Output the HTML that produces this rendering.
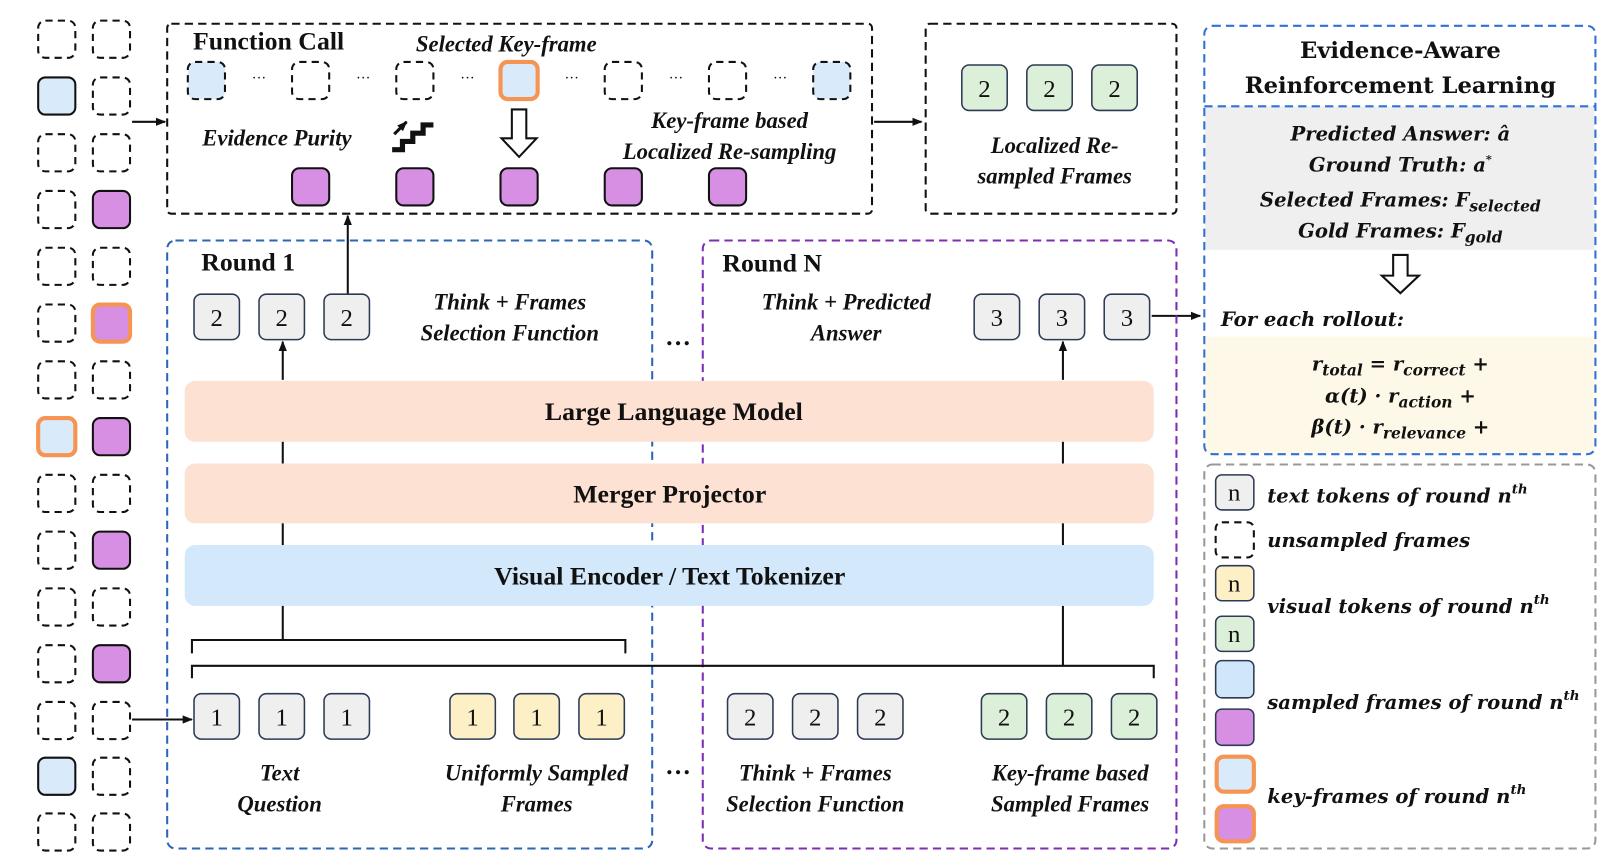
<!DOCTYPE html>
<html><head><meta charset="utf-8"><style>
html,body{margin:0;padding:0;background:#fff;}
svg{display:block;}
svg text{font-family:"Liberation Serif","Times New Roman",Times,serif;fill:#111;}
.bi{font-weight:bold;font-style:italic;font-size:22px;}
.b{font-weight:bold;font-size:25px;}
.n{font-size:24px;}
svg text.dj, svg .dj text{font-family:"DejaVu Serif",serif;}
.dj{font-size:19px;}
</style></head><body>
<svg width="1614" height="864" viewBox="0 0 1564 837" preserveAspectRatio="none" xmlns="http://www.w3.org/2000/svg" font-family="Liberation Serif, serif">
<defs>
<marker id="ah" markerWidth="10" markerHeight="10" refX="9" refY="5" orient="auto" markerUnits="userSpaceOnUse"><path d="M0,1 L10,5 L0,9 z" fill="#111"/></marker>
</defs>
<g stroke="#111" stroke-width="2">
<g fill="none" stroke-dasharray="7 5">
<rect x="37" y="20" width="36" height="36" rx="7"/><rect x="90" y="20" width="36" height="36" rx="7"/>
<rect x="90" y="75" width="36" height="36" rx="7"/>
<rect x="37" y="130" width="36" height="36" rx="7"/><rect x="90" y="130" width="36" height="36" rx="7"/>
<rect x="37" y="185" width="36" height="36" rx="7"/>
<rect x="37" y="240" width="36" height="36" rx="7"/><rect x="90" y="240" width="36" height="36" rx="7"/>
<rect x="37" y="295" width="36" height="36" rx="7"/>
<rect x="37" y="350" width="36" height="36" rx="7"/><rect x="90" y="350" width="36" height="36" rx="7"/>
<rect x="37" y="460" width="36" height="36" rx="7"/><rect x="90" y="460" width="36" height="36" rx="7"/>
<rect x="37" y="515" width="36" height="36" rx="7"/>
<rect x="37" y="570" width="36" height="36" rx="7"/><rect x="90" y="570" width="36" height="36" rx="7"/>
<rect x="37" y="625" width="36" height="36" rx="7"/>
<rect x="37" y="680" width="36" height="36" rx="7"/><rect x="90" y="680" width="36" height="36" rx="7"/>
<rect x="90" y="734" width="36" height="36" rx="7"/>
<rect x="37" y="788" width="36" height="36" rx="7"/><rect x="90" y="788" width="36" height="36" rx="7"/>
</g>
<rect x="37" y="75" width="36" height="36" rx="7" fill="#d9ebfb"/>
<rect x="90" y="185" width="36" height="36" rx="7" fill="#d68fe3"/>
<rect x="90" y="295" width="36" height="36" rx="7" fill="#d68fe3" stroke="#f59453" stroke-width="4"/>
<rect x="37" y="405" width="36" height="36" rx="7" fill="#d9ebfb" stroke="#f59453" stroke-width="4"/>
<rect x="90" y="405" width="36" height="36" rx="7" fill="#d68fe3"/>
<rect x="90" y="515" width="36" height="36" rx="7" fill="#d68fe3"/>
<rect x="90" y="625" width="36" height="36" rx="7" fill="#d68fe3"/>
<rect x="37" y="734" width="36" height="36" rx="7" fill="#d9ebfb"/>

<rect x="162" y="23" width="683" height="184" rx="4" fill="none" stroke-dasharray="8 5"/>
<rect x="182" y="60" width="36" height="36" rx="7" fill="#d9ebfb" stroke-dasharray="7 5"/>
<rect x="283" y="60" width="36" height="36" rx="7" fill="none" stroke-dasharray="7 5"/>
<rect x="384" y="60" width="36" height="36" rx="7" fill="none" stroke-dasharray="7 5"/>
<rect x="485" y="60" width="36" height="36" rx="7" fill="#d9ebfb" stroke="#f59453" stroke-width="4"/>
<rect x="586" y="60" width="36" height="36" rx="7" fill="none" stroke-dasharray="7 5"/>
<rect x="687" y="60" width="36" height="36" rx="7" fill="none" stroke-dasharray="7 5"/>
<rect x="788" y="60" width="36" height="36" rx="7" fill="#d9ebfb" stroke-dasharray="7 5"/>
<rect x="283" y="163" width="36" height="36" rx="7" fill="#d68fe3"/>
<rect x="384" y="163" width="36" height="36" rx="7" fill="#d68fe3"/>
<rect x="485" y="163" width="36" height="36" rx="7" fill="#d68fe3"/>
<rect x="586" y="163" width="36" height="36" rx="7" fill="#d68fe3"/>
<rect x="687" y="163" width="36" height="36" rx="7" fill="#d68fe3"/>
<path d="M496,106 h14 v28 h10 l-17,18 l-17,-18 h10 z" fill="#fff"/>
<path d="M380,145 h10 v-8 h10 v-8 h10 v-8 h10" fill="none" stroke-width="5"/>
<path d="M382,130 l12,-12" fill="none" stroke-width="3" marker-end="url(#ah)"/>

<rect x="897" y="23" width="243" height="184" rx="4" fill="none" stroke-dasharray="8 5"/>
<rect x="932" y="63" width="44" height="44" rx="7" fill="#dcefd9" stroke="#2d3a55" stroke-width="1.5"/>
<rect x="995" y="63" width="44" height="44" rx="7" fill="#dcefd9" stroke="#2d3a55" stroke-width="1.5"/>
<rect x="1058" y="63" width="44" height="44" rx="7" fill="#dcefd9" stroke="#2d3a55" stroke-width="1.5"/>

<line x1="128" y1="118" x2="160" y2="118" marker-end="url(#ah)"/>
<line x1="847" y1="118" x2="893" y2="118" marker-end="url(#ah)"/>
<line x1="337" y1="285" x2="337" y2="209" marker-end="url(#ah)"/>
<line x1="274" y1="368" x2="274" y2="331" marker-end="url(#ah)"/>
<line x1="1030" y1="368" x2="1030" y2="331" marker-end="url(#ah)"/>
<line x1="1116" y1="306" x2="1163" y2="306" marker-end="url(#ah)"/>
<line x1="128" y1="697" x2="186" y2="697" marker-end="url(#ah)"/>
</g>

<rect x="162" y="233" width="470" height="589" rx="8" fill="none" stroke="#2f66b3" stroke-width="2" stroke-dasharray="8 5"/>
<rect x="681" y="233" width="459" height="589" rx="8" fill="none" stroke="#7b2fb5" stroke-width="2" stroke-dasharray="8 5"/>

<rect x="179" y="369" width="939" height="59" rx="10" fill="#fde1d2"/>
<rect x="179" y="449" width="939" height="58" rx="10" fill="#fde1d2"/>
<rect x="179" y="528" width="939" height="59" rx="10" fill="#d3e8fb"/>
<g stroke="#111" stroke-width="2" fill="none">
<line x1="274" y1="428" x2="274" y2="449"/><line x1="274" y1="507" x2="274" y2="528"/>
<line x1="1030" y1="428" x2="1030" y2="449"/><line x1="1030" y1="507" x2="1030" y2="528"/>
<line x1="274" y1="587" x2="274" y2="620"/>
<path d="M186,633 V620 H606 V633"/>
<line x1="1030" y1="587" x2="1030" y2="645"/>
<path d="M186,657 V645 H1118 V657"/>
</g>

<g stroke="#2d3a55" stroke-width="1.5">
<rect x="188" y="285" width="44" height="44" rx="7" fill="#efefef"/>
<rect x="251" y="285" width="44" height="44" rx="7" fill="#efefef"/>
<rect x="314" y="285" width="44" height="44" rx="7" fill="#efefef"/>
<rect x="944" y="285" width="44" height="44" rx="7" fill="#efefef"/>
<rect x="1007" y="285" width="44" height="44" rx="7" fill="#efefef"/>
<rect x="1070" y="285" width="44" height="44" rx="7" fill="#efefef"/>
<rect x="188" y="672" width="44" height="44" rx="7" fill="#efefef"/>
<rect x="251" y="672" width="44" height="44" rx="7" fill="#efefef"/>
<rect x="314" y="672" width="44" height="44" rx="7" fill="#efefef"/>
<rect x="436" y="672" width="44" height="44" rx="7" fill="#fdf0c6"/>
<rect x="498" y="672" width="44" height="44" rx="7" fill="#fdf0c6"/>
<rect x="561" y="672" width="44" height="44" rx="7" fill="#fdf0c6"/>
<rect x="705" y="672" width="44" height="44" rx="7" fill="#efefef"/>
<rect x="768" y="672" width="44" height="44" rx="7" fill="#efefef"/>
<rect x="831" y="672" width="44" height="44" rx="7" fill="#efefef"/>
<rect x="951" y="672" width="44" height="44" rx="7" fill="#dcefd9"/>
<rect x="1014" y="672" width="44" height="44" rx="7" fill="#dcefd9"/>
<rect x="1077" y="672" width="44" height="44" rx="7" fill="#dcefd9"/>
</g>
<g class="n" text-anchor="middle">
<text x="954" y="94">2</text><text x="1017" y="94">2</text><text x="1080" y="94">2</text>
<text x="210" y="316">2</text><text x="273" y="316">2</text><text x="336" y="316">2</text>
<text x="966" y="316">3</text><text x="1029" y="316">3</text><text x="1092" y="316">3</text>
<text x="210" y="703">1</text><text x="273" y="703">1</text><text x="336" y="703">1</text>
<text x="458" y="703">1</text><text x="520" y="703">1</text><text x="583" y="703">1</text>
<text x="727" y="703">2</text><text x="790" y="703">2</text><text x="853" y="703">2</text>
<text x="973" y="703">2</text><text x="1036" y="703">2</text><text x="1099" y="703">2</text>
</g>

<text x="187" y="48" class="b">Function Call</text>
<text x="403" y="50" class="bi">Selected Key-frame</text>
<g font-size="14" text-anchor="middle"><text x="251" y="80">···</text><text x="352" y="80">···</text><text x="453" y="80">···</text><text x="554" y="80">···</text><text x="655" y="80">···</text><text x="756" y="80">···</text></g>
<text x="196" y="141" class="bi">Evidence Purity</text>
<text x="707" y="124" class="bi" text-anchor="middle">Key-frame based</text>
<text x="707" y="154" class="bi" text-anchor="middle">Localized Re-sampling</text>
<text x="1022" y="148" class="bi" text-anchor="middle">Localized Re-</text>
<text x="1022" y="178" class="bi" text-anchor="middle">sampled Frames</text>
<text x="195" y="262" class="b">Round 1</text>
<text x="700" y="263" class="b">Round N</text>
<text x="494" y="300" class="bi" text-anchor="middle">Think + Frames</text>
<text x="494" y="330" class="bi" text-anchor="middle">Selection Function</text>
<text x="820" y="300" class="bi" text-anchor="middle">Think + Predicted</text>
<text x="820" y="330" class="bi" text-anchor="middle">Answer</text>
<text x="657" y="334" class="b" text-anchor="middle">…</text>
<text x="657" y="750" class="b" text-anchor="middle">…</text>
<text x="653" y="407" class="b" text-anchor="middle">Large Language Model</text>
<text x="649" y="487" class="b" text-anchor="middle">Merger Projector</text>
<text x="649" y="566" class="b" text-anchor="middle">Visual Encoder / Text Tokenizer</text>
<text x="271" y="756" class="bi" text-anchor="middle">Text</text>
<text x="271" y="786" class="bi" text-anchor="middle">Question</text>
<text x="520" y="756" class="bi" text-anchor="middle">Uniformly Sampled</text>
<text x="520" y="786" class="bi" text-anchor="middle">Frames</text>
<text x="790" y="756" class="bi" text-anchor="middle">Think + Frames</text>
<text x="790" y="786" class="bi" text-anchor="middle">Selection Function</text>
<text x="1037" y="756" class="bi" text-anchor="middle">Key-frame based</text>
<text x="1037" y="786" class="bi" text-anchor="middle">Sampled Frames</text>

<rect x="1168" y="103" width="377" height="139" fill="#efefef"/>
<rect x="1168" y="326" width="377" height="113" fill="#fdf8e8"/>
<rect x="1167" y="25" width="379" height="415" rx="8" fill="none" stroke="#2f72d6" stroke-width="2" stroke-dasharray="8 5"/>
<line x1="1167" y1="103" x2="1546" y2="103" stroke="#2f72d6" stroke-width="2" stroke-dasharray="8 5"/>
<g class="dj">
<text x="1357" y="56" font-weight="bold" font-size="22" text-anchor="middle">Evidence-Aware</text>
<text x="1357" y="90" font-weight="bold" font-size="22" text-anchor="middle">Reinforcement Learning</text>
<g font-weight="bold" font-style="italic" text-anchor="middle" font-size="19">
<text x="1357" y="136">Predicted Answer: â</text>
<text x="1357" y="166">Ground Truth: a<tspan font-size="11" dy="-8">*</tspan></text>
<text x="1357" y="200">Selected Frames: F<tspan font-size="15" dy="5">selected</tspan></text>
<text x="1357" y="230">Gold Frames: F<tspan font-size="15" dy="5">gold</tspan></text>
<text x="1357" y="359">r<tspan font-size="15" dy="5">total</tspan><tspan dy="-5"> = r</tspan><tspan font-size="15" dy="5">correct</tspan><tspan dy="-5"> +</tspan></text>
<text x="1357" y="390">α(t) · r<tspan font-size="15" dy="5">action</tspan><tspan dy="-5"> +</tspan></text>
<text x="1357" y="420">β(t) · r<tspan font-size="15" dy="5">relevance</tspan><tspan dy="-5"> +</tspan></text>
</g>
<text x="1183" y="316" font-weight="bold" font-style="italic" font-size="19">For each rollout:</text>
<g font-weight="bold" font-style="italic" font-size="19">
<text x="1228" y="487">text tokens of round n<tspan font-size="13" dy="-9">th</tspan></text>
<text x="1228" y="530">unsampled frames</text>
<text x="1228" y="594">visual tokens of round n<tspan font-size="13" dy="-9">th</tspan></text>
<text x="1228" y="687">sampled frames of round n<tspan font-size="13" dy="-9">th</tspan></text>
<text x="1228" y="778">key-frames of round n<tspan font-size="13" dy="-9">th</tspan></text>
</g>
</g>
<path d="M1350,247 h14 v20 h11 l-18,17 l-18,-17 h11 z" fill="#fff" stroke="#111" stroke-width="2"/>

<rect x="1167" y="450" width="379" height="372" rx="8" fill="none" stroke="#999" stroke-width="2" stroke-dasharray="8 5"/>
<g stroke="#2d3a55" stroke-width="1.5">
<rect x="1178" y="460" width="37" height="34" rx="6" fill="#efefef"/>
<rect x="1178" y="548" width="37" height="34" rx="6" fill="#fdf0c6"/>
<rect x="1178" y="597" width="37" height="34" rx="6" fill="#dcefd9"/>
<rect x="1178" y="640" width="37" height="36" rx="6" fill="#cfe6fb"/>
<rect x="1178" y="687" width="37" height="35" rx="6" fill="#d68fe3"/>
</g>
<rect x="1178" y="506" width="37" height="34" rx="6" fill="none" stroke="#111" stroke-width="2" stroke-dasharray="7 5"/>
<rect x="1179" y="733" width="36" height="34" rx="7" fill="#d9ebfb" stroke="#f59453" stroke-width="4"/>
<rect x="1179" y="781" width="36" height="34" rx="7" fill="#d68fe3" stroke="#f59453" stroke-width="4"/>
<g class="n" text-anchor="middle"><text x="1196" y="485">n</text><text x="1196" y="573">n</text><text x="1196" y="622">n</text></g>
</svg>
</body></html>
